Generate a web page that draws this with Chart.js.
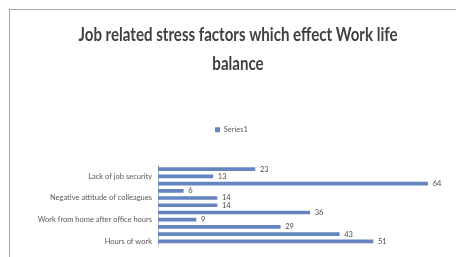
<!DOCTYPE html>
<html>
<head>
<meta charset="utf-8">
<script src="https://cdn.jsdelivr.net/npm/chart.js@4/dist/chart.umd.min.js"></script>
<style>
  html, body { margin: 0; padding: 0; background: #fff; }
  #wrap { position: relative; width: 456px; height: 257px; overflow: hidden; }
  #frame { position: absolute; left: 9px; top: 9px; width: 460px; height: 260px; border: 1px solid #a6a6a6; box-sizing: border-box; }
  canvas { position: absolute; left: 0; top: 0; }
</style>
</head>
<body>
<div id="wrap">
  <div id="frame"></div>
  <canvas id="c" width="456" height="257"></canvas>
</div>
<script>
// Categories, top to bottom as drawn (only every third one is labelled in the reference)
const categories = [
  "Lack of recognition",
  "Lack of job security",
  "Work overload",
  "Role ambiguity",
  "Negative attitude of colleagues",
  "Lack of support from superiors",
  "Tight deadlines",
  "Work from home after office hours",
  "Long commuting",
  "Pressure of targets",
  "Hours of work"
];
const series1 = [23, 13, 64, 6, 14, 14, 36, 9, 29, 43, 51];
const seriesName = "Series1";
const titleLines = ["Job related stress factors which effect Work life", "balance"];
const xMax = 70;

const FONT = "Lato, 'Liberation Sans', sans-serif";

// Title drawn in a condensed (Calibri-like) width
const titlePlugin = {
  id: 'condensedTitle',
  afterDraw(chart) {
    const ctx = chart.ctx;
    ctx.save();
    ctx.font = "bold 18px " + FONT;
    ctx.fillStyle = "#404040";
    ctx.textAlign = "center";
    ctx.textBaseline = "alphabetic";
    const l1 = titleLines[0];
    const w1 = ctx.measureText(l1).width;
    const k = 319 / w1;
    ctx.fillText(l1, 238, 41, 319);
    const l2 = titleLines[1];
    const w2 = ctx.measureText(l2).width * k;
    ctx.fillText(l2, 238, 70, w2);
    ctx.restore();
  }
};

const dataLabels = {
  id: 'dataLabels',
  afterDatasetsDraw(chart) {
    const ctx = chart.ctx;
    const meta = chart.getDatasetMeta(0);
    ctx.save();
    ctx.font = "7.5px " + FONT;
    ctx.fillStyle = "#4d4d4d";
    ctx.textAlign = "left";
    ctx.textBaseline = "middle";
    meta.data.forEach((bar, i) => {
      ctx.fillText(String(series1[i]), bar.x + 5, bar.y);
    });
    ctx.restore();
  }
};

const legendSpace = {
  id: 'legendSpace',
  beforeInit(chart) {
    const origFit = chart.legend.fit;
    chart.legend.fit = function () {
      origFit.bind(chart.legend)();
      this.height += 22;
    };
  }
};

new Chart(document.getElementById('c'), {
  type: 'bar',
  data: {
    labels: categories,
    datasets: [{
      label: seriesName,
      data: series1,
      backgroundColor: '#6485c0',
      borderWidth: 0,
      barThickness: 3
    }]
  },
  options: {
    indexAxis: 'y',
    responsive: false,
    animation: false,
    devicePixelRatio: 1,
    layout: { padding: { top: 123, left: 10, right: 3, bottom: 12 } },
    plugins: {
      title: { display: false },
      legend: {
        display: true,
        position: 'top',
        labels: {
          font: { family: FONT, size: 7.5 },
          color: '#595959',
          boxWidth: 5,
          boxHeight: 5,
          padding: 3
        }
      },
      tooltip: { enabled: false }
    },
    scales: {
      x: {
        display: false,
        min: 0,
        max: xMax
      },
      y: {
        grid: { display: false, drawTicks: false },
        border: { display: true, color: '#bfbfbf', dash: [1, 1] },
        afterFit(scale) { scale.width = 148; },
        ticks: {
          autoSkip: false,
          padding: 6,
          color: '#595959',
          font: { family: FONT, size: 7.5 },
          callback(value, index) {
            return index % 3 === 1 ? categories[index] : '';
          }
        }
      }
    }
  },
  plugins: [titlePlugin, dataLabels, legendSpace]
});
</script>
</body>
</html>
